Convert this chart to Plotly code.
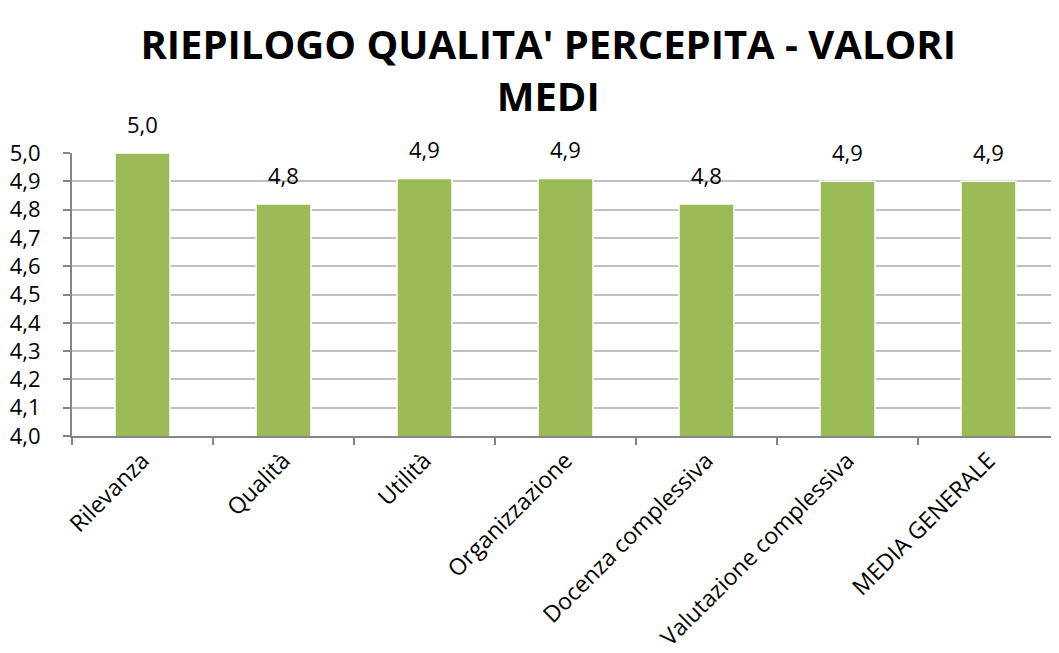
import plotly.graph_objects as go

categories = ["Rilevanza", "Qualità", "Utilità", "Organizzazione",
              "Docenza complessiva", "Valutazione complessiva", "MEDIA GENERALE"]
values = [5.0, 4.82, 4.91, 4.91, 4.82, 4.90, 4.90]
y_ticks = [4.0, 4.1, 4.2, 4.3, 4.4, 4.5, 4.6, 4.7, 4.8, 4.9, 5.0]

font_family = "Open Sans, Liberation Sans, sans-serif"

fig = go.Figure(go.Bar(
    x=categories,
    y=values,
    marker=dict(color="#9BBB59", line=dict(color="white", width=1.5)),
    cliponaxis=False,
))

for c, v in zip(categories, values):
    fig.add_annotation(
        x=c, y=v, text=f"{v:.1f}".replace(".", ","),
        showarrow=False, yanchor="bottom", yshift=12,
        font=dict(size=22, color="black", family=font_family),
    )

fig.update_layout(
    width=1051, height=645,
    separators=",.",
    paper_bgcolor="white", plot_bgcolor="white",
    margin=dict(l=64, r=0, t=145, b=217),
    bargap=0.61,
    showlegend=False,
    title=dict(
        text="<b>RIEPILOGO QUALITA' PERCEPITA - VALORI<br>MEDI</b>",
        x=0.514, xanchor="center", y=0.921, yanchor="middle",
        font=dict(size=40, color="black", family=font_family),
    ),
    font=dict(family=font_family, color="black"),
)

fig.update_xaxes(
    type="category",
    tickson="boundaries",
    ticks="outside", ticklen=7, tickcolor="#868686", tickwidth=2,
    showline=True, linecolor="#868686", linewidth=2,
    tickangle=-45,
    tickfont=dict(size=23, color="black"),
    showgrid=False,
    automargin=False,
)
fig.update_yaxes(
    range=[4.0, 5.0],
    tickvals=y_ticks,
    tickformat=".1f",
    ticks="outside", ticklen=7, tickcolor="#868686", tickwidth=2,
    showline=True, linecolor="#868686", linewidth=2,
    showgrid=True, gridcolor="#C0C0C0", gridwidth=2,
    tickfont=dict(size=22, color="black"),
    ticklabelstandoff=18,
    zeroline=False,
    automargin=False,
)

fig.write_html("out.html")
